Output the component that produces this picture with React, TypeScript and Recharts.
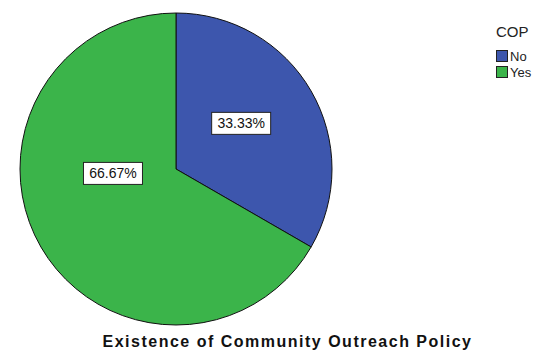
import { PieChart, Pie, Cell, Legend } from "recharts";

const categories = ["No", "Yes"];
const percents = [33.33, 66.67];
const colors = ["#3d56ad", "#3bb44a"];
const legendTitle = "COP";
const chartTitle = "Existence of Community Outreach Policy";

const data = categories.map((name, i) => ({ name, value: percents[i] }));

const RAD = Math.PI / 180;

// SPSS puts the labels a bit off the mid angle, shift them a little
function renderLabel(props: any) {
  const { cx, cy, midAngle, outerRadius, index, value } = props;
  const shift = index === 0 ? 5 : -26;
  const dist = index === 0 ? 0.51 : 0.405;
  const a = (midAngle + shift) * RAD;
  const x = cx + outerRadius * dist * Math.cos(a);
  const y = cy - outerRadius * dist * Math.sin(a);
  const txt = value.toFixed(2) + "%";
  const w = 59;
  const h = 22;
  return (
    <g>
      <rect x={x - w / 2} y={y - h / 2} width={w} height={h} fill="#fff" stroke="#222" strokeWidth={1} />
      <text x={x} y={y + 5} textAnchor="middle" fontSize={14} fontFamily="Liberation Sans, Arial" fill="#111">
        {txt}
      </text>
    </g>
  );
}

function LegendBox() {
  return (
    <div style={{ fontFamily: "Liberation Sans, Arial", color: "#222" }}>
      <div style={{ fontSize: 15, lineHeight: "17px", marginBottom: 8 }}>{legendTitle}</div>
      {categories.map((c, i) => (
        <div key={c} style={{ display: "flex", alignItems: "center", height: 16, fontSize: 13 }}>
          <span
            style={{
              display: "inline-block",
              width: 10,
              height: 10,
              background: colors[i],
              border: "1px solid #222",
              marginRight: 2,
            }}
          />
          {c}
        </div>
      ))}
    </div>
  );
}

export default function App() {
  return (
    <div style={{ position: "absolute", left: 0, top: 0, width: 541, height: 354, background: "#fff" }}>
      <PieChart width={541} height={354} margin={{ top: 0, right: 0, bottom: 0, left: 0 }}>
        <Pie
          data={data}
          dataKey="value"
          nameKey="name"
          cx={176}
          cy={169}
          outerRadius={156}
          startAngle={90}
          endAngle={-270}
          stroke="#111"
          strokeWidth={1}
          label={renderLabel}
          labelLine={false}
          isAnimationActive={false}
        >
          {data.map((d, i) => (
            <Cell key={d.name} fill={colors[i]} />
          ))}
        </Pie>
        <Legend
          layout="vertical"
          verticalAlign="top"
          align="right"
          wrapperStyle={{ top: 23, left: 496, width: 45 }}
          content={() => <LegendBox />}
        />
      </PieChart>
      <div
        style={{
          position: "absolute",
          left: 0,
          width: 541,
          top: 333,
          textAlign: "center",
          paddingLeft: 34,
          boxSizing: "border-box",
          fontFamily: "Liberation Sans, Arial",
          fontWeight: "bold",
          fontSize: 16,
          letterSpacing: 1.5,
          color: "#111",
        }}
      >
        {chartTitle}
      </div>
    </div>
  );
}
